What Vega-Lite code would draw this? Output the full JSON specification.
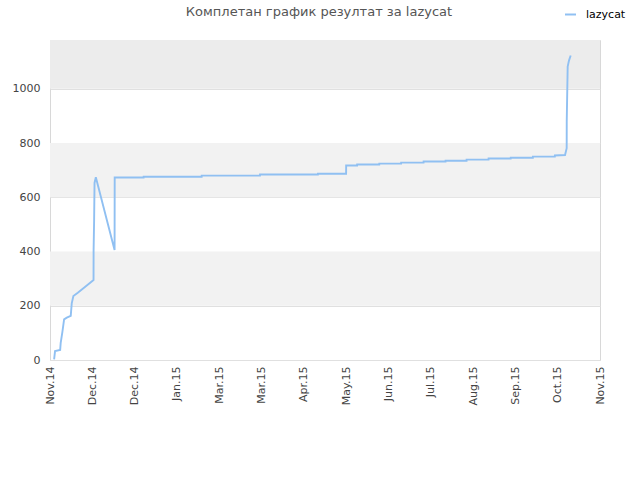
{
  "$schema": "https://vega.github.io/schema/vega-lite/v6.json",
  "autosize": {"type": "none"},
  "width": 550,
  "height": 320,
  "padding": {"left": 50, "top": 40, "right": 40, "bottom": 120},
  "background": "white",
  "config": {
    "font": "DejaVu Sans",
    "view": {"stroke": "#d8d8d8", "strokeWidth": 1}
  },
  "title": {
    "text": "Комплетан график резултат за lazycat",
    "font": "DejaVu Sans",
    "fontSize": 13,
    "fontWeight": "normal",
    "color": "#555555",
    "anchor": "middle",
    "dx": -6,
    "offset": -11
  },
  "datasets": {
    "bands": [
      {"lo": 200, "hi": 400, "shade": "a"},
      {"lo": 600, "hi": 800, "shade": "a"},
      {"lo": 1000, "hi": 1180, "shade": "b"}
    ],
    "scores": [
      {"t": "2014-11-03T22:00", "v": 2, "s": "lazycat"},
      {"t": "2014-11-04T14:00", "v": 33, "s": "lazycat"},
      {"t": "2014-11-08T05:00", "v": 37, "s": "lazycat"},
      {"t": "2014-11-08T14:00", "v": 63, "s": "lazycat"},
      {"t": "2014-11-09T19:00", "v": 104, "s": "lazycat"},
      {"t": "2014-11-11T00:00", "v": 150, "s": "lazycat"},
      {"t": "2014-11-12T22:00", "v": 156, "s": "lazycat"},
      {"t": "2014-11-15T17:00", "v": 163, "s": "lazycat"},
      {"t": "2014-11-16T10:00", "v": 209, "s": "lazycat"},
      {"t": "2014-11-17T14:00", "v": 236, "s": "lazycat"},
      {"t": "2014-11-20T17:00", "v": 248, "s": "lazycat"},
      {"t": "2014-11-26T00:00", "v": 270, "s": "lazycat"},
      {"t": "2014-12-01T21:00", "v": 295, "s": "lazycat"},
      {"t": "2014-12-01T22:00", "v": 406, "s": "lazycat"},
      {"t": "2014-12-02T07:00", "v": 517, "s": "lazycat"},
      {"t": "2014-12-02T14:00", "v": 653, "s": "lazycat"},
      {"t": "2014-12-03T12:00", "v": 674, "s": "lazycat"},
      {"t": "2014-12-16T19:00", "v": 406, "s": "lazycat"},
      {"t": "2014-12-16T21:00", "v": 673, "s": "lazycat"},
      {"t": "2015-01-06T09:00", "v": 673, "s": "lazycat"},
      {"t": "2015-01-06T10:00", "v": 676, "s": "lazycat"},
      {"t": "2015-02-16T13:00", "v": 676, "s": "lazycat"},
      {"t": "2015-02-16T14:00", "v": 680, "s": "lazycat"},
      {"t": "2015-03-29T21:00", "v": 680, "s": "lazycat"},
      {"t": "2015-03-29T22:00", "v": 684, "s": "lazycat"},
      {"t": "2015-05-09T23:00", "v": 684, "s": "lazycat"},
      {"t": "2015-05-10T00:00", "v": 687, "s": "lazycat"},
      {"t": "2015-05-29T23:00", "v": 687, "s": "lazycat"},
      {"t": "2015-05-30T00:00", "v": 717, "s": "lazycat"},
      {"t": "2015-06-06T18:00", "v": 717, "s": "lazycat"},
      {"t": "2015-06-06T19:00", "v": 721, "s": "lazycat"},
      {"t": "2015-06-22T11:00", "v": 721, "s": "lazycat"},
      {"t": "2015-06-22T12:00", "v": 724, "s": "lazycat"},
      {"t": "2015-07-07T23:00", "v": 724, "s": "lazycat"},
      {"t": "2015-07-08T00:00", "v": 728, "s": "lazycat"},
      {"t": "2015-07-23T21:00", "v": 728, "s": "lazycat"},
      {"t": "2015-07-23T22:00", "v": 732, "s": "lazycat"},
      {"t": "2015-08-08T11:00", "v": 732, "s": "lazycat"},
      {"t": "2015-08-08T12:00", "v": 735, "s": "lazycat"},
      {"t": "2015-08-23T09:00", "v": 735, "s": "lazycat"},
      {"t": "2015-08-23T10:00", "v": 739, "s": "lazycat"},
      {"t": "2015-09-07T23:00", "v": 739, "s": "lazycat"},
      {"t": "2015-09-08T00:00", "v": 743, "s": "lazycat"},
      {"t": "2015-09-23T16:00", "v": 743, "s": "lazycat"},
      {"t": "2015-09-23T17:00", "v": 746, "s": "lazycat"},
      {"t": "2015-10-09T09:00", "v": 746, "s": "lazycat"},
      {"t": "2015-10-09T10:00", "v": 750, "s": "lazycat"},
      {"t": "2015-10-24T23:00", "v": 750, "s": "lazycat"},
      {"t": "2015-10-25T00:00", "v": 754, "s": "lazycat"},
      {"t": "2015-11-01T05:00", "v": 756, "s": "lazycat"},
      {"t": "2015-11-02T09:00", "v": 781, "s": "lazycat"},
      {"t": "2015-11-02T10:00", "v": 879, "s": "lazycat"},
      {"t": "2015-11-03T02:00", "v": 1082, "s": "lazycat"},
      {"t": "2015-11-04T00:00", "v": 1104, "s": "lazycat"},
      {"t": "2015-11-05T05:00", "v": 1123, "s": "lazycat"}
    ]
  },
  "layer": [
    {
      "data": {"name": "bands"},
      "mark": {"type": "rect", "strokeWidth": 0},
      "encoding": {
        "y": {"field": "lo", "type": "quantitative", "scale": {"domain": [0, 1180], "nice": false, "zero": true},
          "axis": {"values": [0, 200, 400, 600, 800, 1000], "format": "d", "grid": true, "gridColor": "#e0e0e0", "domain": false, "ticks": false,
            "labelPadding": 10, "labelFontSize": 11, "labelColor": "#444444", "labelFont": "DejaVu Sans", "title": null}},
        "y2": {"field": "hi"},
        "fill": {"field": "shade", "type": "nominal", "scale": {"domain": ["a", "b"], "range": ["#f2f2f2", "#ececec"]}, "legend": null}
      }
    },
    {
      "data": {"name": "scores"},
      "mark": {"type": "line", "strokeWidth": 1.9, "interpolate": "linear"},
      "encoding": {
        "x": {"field": "t", "type": "temporal",
          "scale": {"domain": [{"year": 2014, "month": 11, "date": 1}, {"year": 2015, "month": 11, "date": 26}], "nice": false},
          "axis": {
            "values": [
              {"year": 2014, "month": 11, "date": 1},
              {"year": 2014, "month": 12, "date": 1},
              {"year": 2014, "month": 12, "date": 31},
              {"year": 2015, "month": 1, "date": 30},
              {"year": 2015, "month": 3, "date": 1},
              {"year": 2015, "month": 3, "date": 31},
              {"year": 2015, "month": 4, "date": 30},
              {"year": 2015, "month": 5, "date": 30},
              {"year": 2015, "month": 6, "date": 29},
              {"year": 2015, "month": 7, "date": 29},
              {"year": 2015, "month": 8, "date": 28},
              {"year": 2015, "month": 9, "date": 27},
              {"year": 2015, "month": 10, "date": 27},
              {"year": 2015, "month": 11, "date": 26}
            ],
            "format": "%b.%y",
            "labelAngle": -90,
            "labelFontSize": 11,
            "labelColor": "#444444",
            "labelFont": "DejaVu Sans",
            "labelPadding": 6,
            "ticks": false,
            "grid": false,
            "domain": false,
            "labelOverlap": false,
            "labelBound": false,
            "labelFlush": false,
            "title": null
          }
        },
        "y": {"field": "v", "type": "quantitative"},
        "color": {"field": "s", "type": "nominal",
          "scale": {"domain": ["lazycat"], "range": ["#90c0f2"]},
          "legend": {
            "title": null,
            "orient": "none",
            "legendX": 514,
            "legendY": -32,
            "symbolType": "stroke",
            "symbolStrokeWidth": 2,
            "symbolSize": 120,
            "labelOffset": 9,
            "labelFontSize": 11,
            "labelFont": "DejaVu Sans",
            "labelColor": "#000000"
          }
        }
      }
    }
  ]
}
